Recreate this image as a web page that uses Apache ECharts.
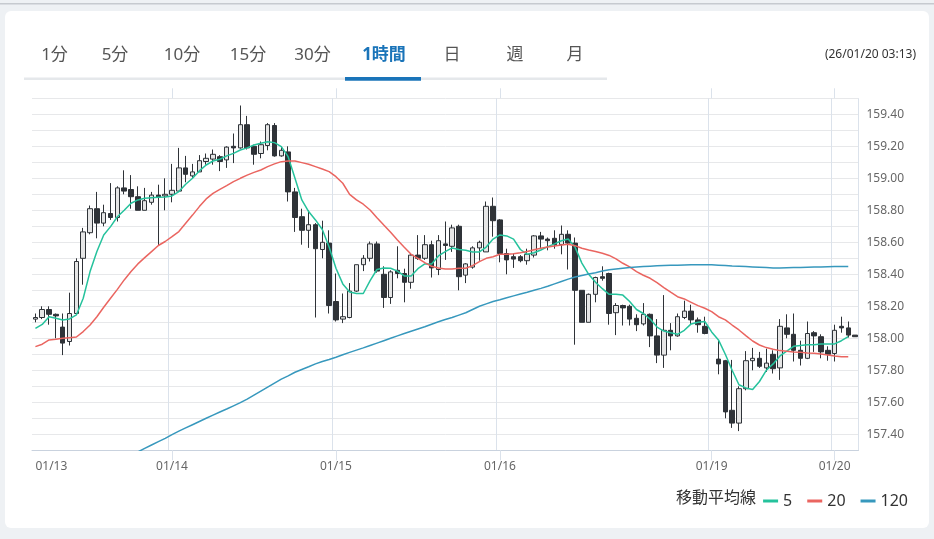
<!DOCTYPE html>
<html>
<head>
<meta charset="utf-8">
<script src="https://cdn.jsdelivr.net/npm/echarts@6/dist/echarts.min.js"></script>
<style>
html,body{margin:0;padding:0;background:#eef1f4;}
#chart{width:934px;height:539px;}
</style>
</head>
<body>
<div id="chart"></div>
<script>
// ---- data ----
const days = [['01/13',4,23],['01/14',0,23],['01/15',0,23],['01/16',0,23],['01/17',0,6],['01/19',6,23],['01/20',0,3]];
const dayLabels = ['01/13 04:00','01/14 00:00','01/15 00:00','01/16 00:00','01/19 06:00','01/20 00:00'];
const tabs = ['1分','5分','10分','15分','30分','1時間','日','週','月'];
const updated = '(26/01/20 03:13)';
const maTitle = '移動平均線';

const opens = [158.12,158.13,158.18,158.15,158.07,157.98,158.155,158.50,158.66,158.81,
158.72,158.78,158.755,158.94,158.93,158.885,158.80,158.85,158.895,158.89,
158.90,158.92,159.065,159.015,159.04,159.105,159.12,159.135,159.115,159.20,
159.19,159.335,159.20,159.155,159.205,159.33,159.14,159.165,158.915,158.76,
158.675,158.71,158.555,158.595,158.23,158.12,158.13,158.295,158.46,158.50,
158.59,158.40,158.255,158.425,158.405,158.35,158.52,158.50,158.585,158.43,
158.59,158.575,158.70,158.395,158.445,158.565,158.54,158.825,158.74,158.53,
158.51,158.51,158.485,158.52,158.64,158.62,158.625,158.585,158.65,158.595,
158.30,158.10,158.275,158.385,158.405,158.16,158.205,158.20,158.125,158.09,
158.15,158.015,157.895,158.05,158.015,158.13,158.17,158.115,158.075,null,
157.87,157.86,157.55,157.47,157.685,157.86,157.875,157.815,157.90,157.815,
158.065,158.025,157.925,157.875,158.035,158.01,157.925,157.905,158.075,158.065,
158.02];
const closes = [158.13,158.18,158.15,158.14,157.97,158.155,158.48,158.665,158.81,158.72,
158.785,158.755,158.94,158.92,158.885,158.80,158.86,158.895,158.883,158.90,
158.925,159.065,159.025,159.04,159.11,159.125,159.15,159.105,159.195,159.19,
159.335,159.19,159.15,159.21,159.335,159.14,159.175,158.915,158.755,158.675,
158.71,158.56,158.60,158.205,158.115,158.135,158.295,158.46,158.50,158.59,
158.42,158.255,158.415,158.405,158.35,158.52,158.50,158.585,158.44,158.61,
158.58,158.69,158.385,158.465,158.565,158.60,158.825,158.735,158.53,158.49,
158.495,158.485,158.525,158.64,158.62,158.61,158.585,158.65,158.595,158.30,
158.10,158.275,158.38,158.375,158.155,158.205,158.19,158.12,158.085,158.15,
158.015,157.895,158.05,158.015,158.135,158.17,158.115,158.085,158.03,null,
157.84,157.54,157.47,157.685,157.86,157.875,157.825,157.845,157.81,158.075,
158.025,157.925,157.875,158.03,158.015,157.915,157.90,158.05,158.065,158.02,
158.01];
const lows = [158.10,158.12,158.085,158.00,157.895,157.955,158.145,158.335,158.65,158.625,
158.70,158.74,158.73,158.90,158.81,158.80,158.80,158.835,158.58,158.80,
158.85,158.915,158.975,159.00,159.04,159.085,159.085,159.045,159.065,159.095,
159.185,159.18,159.085,159.125,159.175,159.135,159.135,158.855,158.665,158.585,
158.565,158.13,158.50,158.155,158.105,158.095,158.125,158.29,158.42,158.48,
158.41,158.19,158.215,158.375,158.225,158.31,158.49,158.49,158.38,158.395,
158.49,158.54,158.30,158.345,158.435,158.485,158.54,158.635,158.475,158.40,
158.44,158.475,158.46,158.505,158.565,158.55,158.56,158.525,158.43,157.96,
158.10,158.10,158.225,158.36,158.085,158.02,158.08,158.08,158.045,158.08,
157.945,157.845,157.815,157.925,158.01,158.12,158.085,158.035,158.025,null,
157.775,157.50,157.44,157.42,157.675,157.80,157.815,157.79,157.78,157.74,
158.00,157.855,157.83,157.87,157.915,157.875,157.86,157.855,158.035,158.005,
158.01];
const highs = [158.155,158.20,158.20,158.155,158.155,158.285,158.50,158.69,158.83,158.915,
158.835,158.97,158.95,159.05,159.02,158.95,158.94,158.915,158.96,159.00,
159.09,159.19,159.14,159.09,159.145,159.155,159.18,159.145,159.20,159.28,
159.455,159.39,159.21,159.23,159.345,159.345,159.20,159.20,158.94,158.81,
158.80,158.72,158.735,158.675,158.405,158.28,158.345,158.46,158.52,158.605,
158.605,158.45,158.425,158.575,158.435,158.53,158.645,158.645,158.61,158.645,
158.73,158.71,158.71,158.47,158.575,158.61,158.855,158.88,158.745,158.56,
158.53,158.52,158.56,158.645,158.665,158.63,158.675,158.705,158.675,158.63,
158.30,158.28,158.385,158.45,158.41,158.22,158.21,158.21,158.15,158.22,
158.155,158.12,158.27,158.095,158.155,158.235,158.21,158.13,158.135,null,
157.985,157.865,157.865,157.70,157.92,157.94,157.915,157.935,157.925,158.12,
158.15,158.155,157.985,158.105,158.045,158.025,157.95,158.085,158.135,158.105,
158.02];

const ma5 = [158.062,158.087,158.135,158.125,158.115,158.121,158.146,158.25,158.417,158.542,
158.646,158.698,158.76,158.80,158.844,158.865,158.875,158.879,158.881,158.883,
158.89,158.917,158.963,159.00,159.046,159.083,159.108,159.119,159.14,159.156,
159.177,159.19,159.208,159.219,159.229,159.223,159.198,159.135,159.00,158.865,
158.792,158.74,158.68,158.57,158.438,158.34,158.29,158.28,158.28,158.36,
158.43,158.44,158.438,158.42,158.39,158.39,158.435,158.465,158.465,158.515,
158.542,158.565,158.555,158.55,158.54,158.54,158.57,158.62,158.646,158.64,
158.62,158.555,158.525,158.535,158.552,158.573,158.59,158.61,158.62,158.57,
158.47,158.40,158.35,158.31,158.275,158.275,158.27,158.23,158.18,158.155,
158.12,158.07,158.045,158.035,158.025,158.05,158.09,158.10,158.105,158.04,
157.99,157.90,157.80,157.71,157.69,157.68,157.73,157.80,157.84,157.89,
157.92,157.95,157.955,157.96,157.96,157.965,157.965,157.965,157.985,158.01,
null];
const ma20 = [157.948,157.963,157.99,157.994,158.00,158.004,158.008,158.042,158.083,158.135,
158.194,158.25,158.306,158.365,158.417,158.465,158.504,158.542,158.58,158.605,
158.635,158.667,158.719,158.77,158.823,158.871,158.906,158.931,158.954,158.979,
159.00,159.02,159.037,159.052,159.073,159.09,159.104,159.108,159.108,159.098,
159.088,159.073,159.058,159.042,159.01,158.969,158.90,158.865,158.838,158.802,
158.754,158.708,158.663,158.615,158.569,158.525,158.50,158.473,158.45,158.44,
158.433,158.433,158.438,158.438,158.454,158.479,158.50,158.51,158.525,158.525,
158.529,158.535,158.542,158.554,158.563,158.571,158.577,158.583,158.588,158.579,
158.563,158.552,158.542,158.531,158.518,158.496,158.469,158.446,158.417,158.394,
158.375,158.348,158.317,158.288,158.26,158.246,158.225,158.204,158.188,158.167,
158.135,158.115,158.083,158.052,158.017,157.983,157.958,157.942,157.931,157.923,
157.919,157.915,157.913,157.908,157.906,157.902,157.896,157.89,157.885,157.885,
null];
const ma120 = [null,null,null,null,null,null,null,null,null,null,
null,null,null,157.25,157.27,157.29,157.312,157.333,157.354,157.375,
157.398,157.42,157.44,157.46,157.48,157.50,157.52,157.539,157.558,157.578,
157.598,157.62,157.645,157.67,157.695,157.72,157.745,157.765,157.788,157.805,
157.822,157.84,157.855,157.868,157.882,157.897,157.912,157.926,157.94,157.955,
157.97,157.985,158.00,158.015,158.03,158.044,158.058,158.072,158.088,158.103,
158.117,158.13,158.145,158.16,158.18,158.20,158.215,158.23,158.241,158.253,
158.265,158.277,158.288,158.30,158.312,158.325,158.34,158.355,158.37,158.383,
158.393,158.402,158.41,158.42,158.428,158.433,158.438,158.442,158.445,158.448,
158.451,158.453,158.455,158.456,158.457,158.458,158.459,158.459,158.459,158.459,
158.457,158.455,158.452,158.45,158.448,158.446,158.444,158.442,158.44,158.44,
158.441,158.442,158.443,158.444,158.445,158.446,158.447,158.448,158.449,158.449,
null];

// ---- build ----
const pad = n => (n < 10 ? '0' : '') + n;
const categories = [];
days.forEach(d => { for (let h = d[1]; h <= d[2]; h++) categories.push(d[0] + ' ' + pad(h) + ':00'); });
const labelSet = new Set(dayLabels);
const lineSet = new Set(dayLabels.slice(1));
const candleData = opens.map((o, i) => o == null ? '-' : [o, closes[i], lows[i], highs[i]]);
const toLine = a => a.map(v => v == null ? '-' : v);

const FONT = "'Noto Sans','Noto Sans CJK JP',sans-serif";
const tabCenters = [54.5, 115, 182, 248, 312.5, 384, 452, 515, 575];

const graphics = [
  { type: 'rect', shape: { x: 0, y: 3, width: 934, height: 1.5 }, style: { fill: '#c6cacf' }, silent: true },
  { type: 'rect', shape: { x: 5, y: 11, width: 924, height: 517, r: 6 }, style: { fill: '#ffffff' }, silent: true, z: -10 },
  { type: 'rect', shape: { x: 24, y: 77.5, width: 583, height: 2.5 }, style: { fill: '#e5e8eb' }, silent: true },
  { type: 'rect', shape: { x: 345, y: 77, width: 76, height: 3.8 }, style: { fill: '#1a74b9' }, silent: true },
  { type: 'text', x: 916, y: 55, style: { text: updated, fontSize: 12, fill: '#333', align: 'right', verticalAlign: 'middle', fontFamily: FONT } },
  { type: 'text', x: 756, y: 498, style: { text: maTitle, fontSize: 16, fill: '#333', align: 'right', verticalAlign: 'middle', fontFamily: FONT } }
];
tabs.forEach((t, i) => {
  const active = t === '1時間';
  graphics.push({ type: 'text', x: tabCenters[i], y: 55, style: {
    text: t, fontSize: 17, fill: active ? '#1a74b9' : '#555', fontWeight: active ? 'bold' : 'normal',
    align: 'center', verticalAlign: 'middle', fontFamily: FONT } });
});

const chart = echarts.init(document.getElementById('chart'), null, { renderer: 'canvas' });
chart.setOption({
  animation: false,
  backgroundColor: 'transparent',
  textStyle: { fontFamily: FONT },
  graphic: graphics,
  legend: {
    data: ['5', '20', '120'],
    right: 21, top: 488,
    icon: 'rect', itemWidth: 15, itemHeight: 3, itemGap: 15,
    textStyle: { fontSize: 16, color: '#333', fontFamily: FONT }
  },
  grid: { left: 32, right: 75.5, top: 98.3, bottom: 88.7 },
  xAxis: [{
    type: 'category', data: categories, boundaryGap: true,
    axisLine: { lineStyle: { color: '#c9d2de', width: 1 } },
    axisTick: { show: true, alignWithLabel: true, length: 10, interval: (i, v) => lineSet.has(v), lineStyle: { color: '#dbe2eb' } },
    axisLabel: { color: '#666', fontSize: 12, margin: 10, interval: (i, v) => labelSet.has(v), formatter: v => v.slice(0, 5), alignMinLabel: 'left' },
    splitLine: { show: true, interval: (i, v) => lineSet.has(v), lineStyle: { color: '#dbe2eb', width: 1 } }
  }, {
    type: 'category', data: categories, boundaryGap: true, position: 'top',
    axisLine: { show: false },
    axisTick: { show: true, alignWithLabel: true, length: 10, interval: (i, v) => lineSet.has(v), lineStyle: { color: '#dbe2eb' } },
    axisLabel: { show: false }, splitLine: { show: false }
  }],
  yAxis: {
    type: 'value', position: 'right', min: 157.3, max: 159.5, interval: 0.1, scale: true,
    axisLine: { show: false }, axisTick: { show: false },
    axisLabel: { color: '#666', fontSize: 12, margin: 8,
      formatter: v => (Math.round(v * 10) % 2 === 0 ? v.toFixed(2) : '') },
    splitLine: { lineStyle: { color: '#e7e8ea', width: 1 } }
  },
  series: [
    { name: 'ローソク足', type: 'candlestick', data: candleData, barWidth: 5,
      itemStyle: { color: '#e6e6e6', color0: '#2f3338', borderColor: '#2f3338', borderColor0: '#2f3338', borderWidth: 1 } },
    { name: '5', type: 'line', data: toLine(ma5), symbol: 'none', smooth: false,
      lineStyle: { color: '#25c29c', width: 1.5 }, itemStyle: { color: '#25c29c' }, z: 3 },
    { name: '20', type: 'line', data: toLine(ma20), symbol: 'none',
      lineStyle: { color: '#ea6560', width: 1.5 }, itemStyle: { color: '#ea6560' }, z: 3 },
    { name: '120', type: 'line', data: toLine(ma120), symbol: 'none',
      lineStyle: { color: '#3798bd', width: 1.5 }, itemStyle: { color: '#3798bd' }, z: 3 }
  ]
});
</script>
</body>
</html>
